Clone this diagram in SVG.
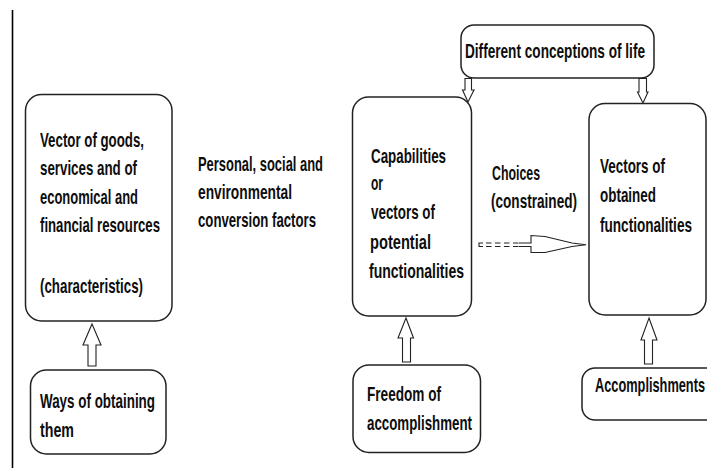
<svg xmlns="http://www.w3.org/2000/svg" width="707" height="468" viewBox="0 0 707 468">
<style>
.box{fill:#fff;stroke:#222;stroke-width:1.5}
.arr{fill:#fff;stroke:#222;stroke-width:1.1;stroke-linejoin:miter}
.t{font-family:"Liberation Sans Narrow","Liberation Sans",Arial,sans-serif;font-weight:bold;font-size:21px;fill:#0d0d0d}
</style>
<rect width="707" height="468" fill="#fff"/>
<line x1="12.5" y1="10" x2="12.5" y2="468" stroke="#000" stroke-width="1.6"/>

<g id="node-vector-goods">
<rect class="box" x="25.5" y="94.5" width="146.5" height="226.5" rx="16"/>
<text class="t" x="40" y="147" textLength="104" lengthAdjust="spacingAndGlyphs">Vector of goods,</text>
<text class="t" x="40" y="175" textLength="97" lengthAdjust="spacingAndGlyphs">services and of</text>
<text class="t" x="40" y="204" textLength="98" lengthAdjust="spacingAndGlyphs">economical and</text>
<text class="t" x="40" y="232" textLength="120" lengthAdjust="spacingAndGlyphs">financial resources</text>
<text class="t" x="40" y="293" textLength="103" lengthAdjust="spacingAndGlyphs">(characteristics)</text>
</g>

<g id="node-conversion">
<text class="t" x="198" y="171" textLength="125" lengthAdjust="spacingAndGlyphs">Personal, social and</text>
<text class="t" x="198" y="199" textLength="94" lengthAdjust="spacingAndGlyphs">environmental</text>
<text class="t" x="198" y="227" textLength="118" lengthAdjust="spacingAndGlyphs">conversion factors</text>
</g>

<g id="node-ways">
<rect class="box" x="30.5" y="370" width="135.5" height="84" rx="16"/>
<text class="t" x="40" y="408" textLength="115" lengthAdjust="spacingAndGlyphs">Ways of obtaining</text>
<text class="t" x="40" y="437" textLength="34" lengthAdjust="spacingAndGlyphs">them</text>
</g>

<g id="node-conceptions">
<rect class="box" x="461" y="25" width="193" height="53" rx="13"/>
<text class="t" x="465" y="58" textLength="180" lengthAdjust="spacingAndGlyphs">Different conceptions of life</text>
</g>

<g id="node-capabilities">
<rect class="box" x="352.5" y="97" width="119" height="219" rx="16"/>
<text class="t" x="371" y="163" textLength="75" lengthAdjust="spacingAndGlyphs">Capabilities</text>
<text class="t" x="371" y="190" textLength="12" lengthAdjust="spacingAndGlyphs">or</text>
<text class="t" x="371" y="219" textLength="64" lengthAdjust="spacingAndGlyphs">vectors of</text>
<text class="t" x="370" y="249" textLength="61" lengthAdjust="spacingAndGlyphs">potential</text>
<text class="t" x="369" y="278" textLength="95" lengthAdjust="spacingAndGlyphs">functionalities</text>
</g>

<g id="node-choices">
<text class="t" x="492" y="180" textLength="48" lengthAdjust="spacingAndGlyphs">Choices</text>
<text class="t" x="491" y="208" textLength="86" lengthAdjust="spacingAndGlyphs">(constrained)</text>
</g>

<g id="node-vectors-obtained">
<rect class="box" x="589" y="103.5" width="117" height="211.5" rx="16"/>
<text class="t" x="600" y="173" textLength="65" lengthAdjust="spacingAndGlyphs">Vectors of</text>
<text class="t" x="600" y="202" textLength="56" lengthAdjust="spacingAndGlyphs">obtained</text>
<text class="t" x="600" y="232" textLength="92" lengthAdjust="spacingAndGlyphs">functionalities</text>
</g>

<g id="node-freedom">
<rect class="box" x="353" y="365" width="127.5" height="87.5" rx="16"/>
<text class="t" x="367" y="401" textLength="74" lengthAdjust="spacingAndGlyphs">Freedom of</text>
<text class="t" x="367" y="430" textLength="105" lengthAdjust="spacingAndGlyphs">accomplishment</text>
</g>

<g id="node-accomplishments">
<rect class="box" x="582" y="368" width="140" height="52" rx="13"/>
<text class="t" x="595" y="392" textLength="110" lengthAdjust="spacingAndGlyphs">Accomplishments</text>
</g>

<g id="connectors">
<polygon class="arr" points="92,324 101,345 96,345 96,366 88,366 88,345 83,345"/>
<polygon class="arr" points="406,318 413.5,338 410.5,338 410.5,362 402.5,362 402.5,338 398,338"/>
<polygon class="arr" points="649,318 657,340 652.5,340 652.5,364 644.5,364 644.5,340 641,340"/>
<polygon class="arr" points="465,78.5 471.5,78.5 471.5,90 474,90 468,102 462.5,90 465,90"/>
<polygon class="arr" points="639,78.5 646.5,78.5 646.5,92 648,92 643,103 637.5,92 639,92"/>
<g fill="none" stroke="#222" stroke-width="1.1">
<path d="M483,243 H479 V246.5 H483"/>
<path d="M486,243 H519 M486,246.5 H519" stroke-dasharray="5.5,3.5"/>
<path d="M519,243 H531 V235.5 L545,236.5 L572,243 L586,244.7 L572,246.5 L545,252.5 L531,252.5 V246.5 H519"/>
</g>
</g>
</svg>
